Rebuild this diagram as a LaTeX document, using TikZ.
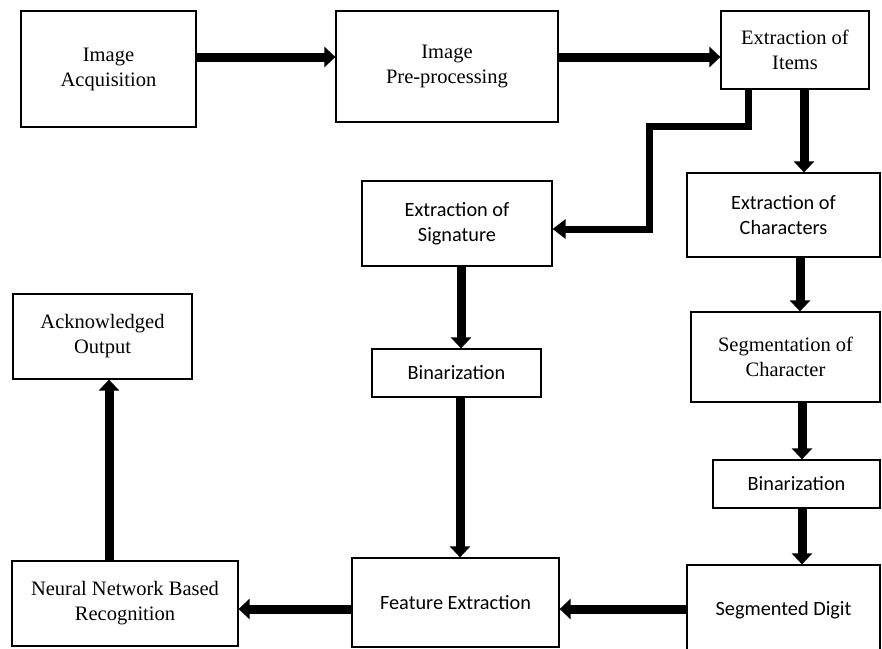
\documentclass[tikz,border=0pt]{standalone}
\usepackage{fontspec}
\setmainfont{Liberation Serif}
\newfontfamily\calfont{Carlito}
\usetikzlibrary{arrows.meta}
\tikzset{
  box/.style={draw, line width=1.2pt, align=center, inner sep=0pt},
  tbox/.style={box, font=\fontsize{20.5}{25}\selectfont},
  cbox/.style={box, font=\calfont\fontsize{20.3}{25}\selectfont},
  arr/.style={line width=9pt, -{Triangle[width=20pt,length=11pt]}},
  barr/.style={line width=7pt, line join=miter, -{Triangle[width=19pt,length=13pt]}}
}
\begin{document}
\begin{tikzpicture}[x=1pt,y=-1pt]
\useasboundingbox (0,0) rectangle (882,648);
\clip (0,0) rectangle (882,648);
\node[tbox, minimum width=175pt, minimum height=116pt] (acq) at (108.5,69) {Image\\Acquisition};
\node[tbox, minimum width=222pt, minimum height=111pt] (pre) at (447,66.5) {Image\\Pre-processing};
\node[tbox, minimum width=148pt, minimum height=78pt] (items) at (795,50) {Extraction of\\Items};
\node[cbox, minimum width=190pt, minimum height=85pt] (sig) at (457,223.5) {Extraction of\\Signature};
\node[cbox, minimum width=193pt, minimum height=84pt] (chars) at (783.5,215) {Extraction of\\Characters};
\node[tbox, minimum width=189pt, minimum height=90pt] (seg) at (785.5,357) {Segmentation of\\Character};
\node[cbox, minimum width=167pt, minimum height=48pt] (bin2) at (796.5,484) {Binarization};
\node[cbox, minimum width=193pt, minimum height=90pt] (digit) at (783.5,610) {Segmented Digit};
\node[cbox, minimum width=207pt, minimum height=89pt] (feat) at (455.5,602.5) {Feature Extraction};
\node[tbox, minimum width=226pt, minimum height=85pt] (nn) at (125,603.5) {Neural Network Based\\Recognition};
\node[tbox, minimum width=179pt, minimum height=85pt] (ack) at (102.5,336.5) {Acknowledged\\Output};
\node[cbox, minimum width=169pt, minimum height=48pt] (bin1) at (456.5,373) {Binarization};
\coordinate (r1) at (0,57);
\draw[arr] (acq.east |- r1) -- (pre.west |- r1);
\draw[arr] (pre.east |- r1) -- (items.west |- r1);
\coordinate (cA) at (804,0);
\draw[arr] (cA |- items.south) -- (cA |- chars.north);
\coordinate (cB) at (800,0);
\draw[arr] (cB |- chars.south) -- (cB |- seg.north);
\coordinate (cC) at (802,0);
\draw[arr] (cC |- seg.south) -- (cC |- bin2.north);
\draw[arr] (cC |- bin2.south) -- (cC |- digit.north);
\coordinate (r2) at (0,609);
\draw[arr] (digit.west |- r2) -- (feat.east |- r2);
\draw[arr] (feat.west |- r2) -- (nn.east |- r2);
\coordinate (cD) at (109,0);
\draw[arr] (cD |- nn.north) -- (cD |- ack.south);
\coordinate (cE) at (461,0);
\draw[arr] (cE |- sig.south) -- (cE |- bin1.north);
\coordinate (cF) at (460,0);
\draw[arr] (cF |- bin1.south) -- (cF |- feat.north);
\coordinate (b1) at (748,126);
\coordinate (b2) at (649,229);
\draw[barr] (b1 |- items.south) -- (b1) -- (b2 |- b1) -- (b2) -- (sig.east |- b2);
\end{tikzpicture}
\end{document}
